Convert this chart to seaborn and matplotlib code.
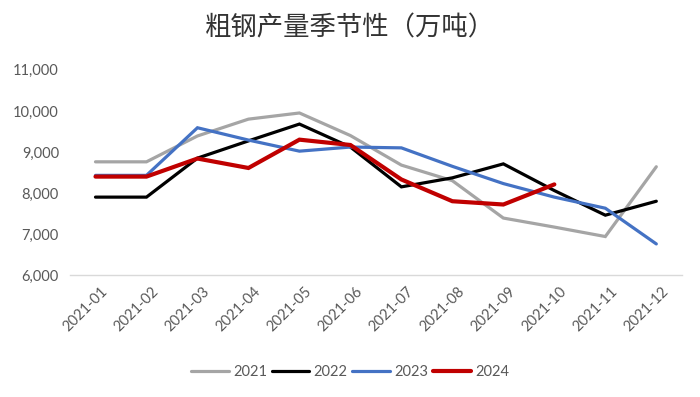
import numpy as np
import pandas as pd
import matplotlib
matplotlib.use("Agg")
import matplotlib.pyplot as plt
import matplotlib.ticker as mticker
import matplotlib.transforms as mtrans
from matplotlib.lines import Line2D
import seaborn as sns

months = ["2021-01", "2021-02", "2021-03", "2021-04", "2021-05", "2021-06",
          "2021-07", "2021-08", "2021-09", "2021-10", "2021-11", "2021-12"]
y2021 = [8760, 8760, 9390, 9800, 9950, 9400, 8680, 8300, 7390, 7170, 6940, 8640]
y2022 = [7900, 7900, 8850, 9270, 9680, 9120, 8150, 8370, 8710, 8060, 7460, 7800]
y2023 = [8430, 8430, 9590, 9290, 9020, 9120, 9100, 8650, 8230, 7900, 7630, 6760]
y2024 = [8400, 8400, 8840, 8610, 9300, 9170, 8330, 7800, 7720, 8210]
years = ["2021", "2022", "2023", "2024"]
colors = ["#A5A5A5", "#000000", "#4472C4", "#C00000"]
widths = [2.3, 2.3, 2.3, 3.0]

rows = []
for yr, vals in zip(years, [y2021, y2022, y2023, y2024]):
    for m, v in zip(months, vals):
        rows.append({"month": m, "year": yr, "value": v})
df = pd.DataFrame(rows)

sns.set_style("white")
plt.rcParams["font.family"] = ["Lato", "Noto Sans CJK SC", "DejaVu Sans"]

fig = plt.figure(figsize=(7.0, 3.97), dpi=100)
ax = fig.add_axes([0.1, 0.307, 0.874, 0.517])

df["xi"] = df["month"].map({m: i for i, m in enumerate(months)})
sns.lineplot(data=df, x="xi", y="value", hue="year", palette=colors,
             hue_order=years, ax=ax, legend=False, sort=False)
for line, lw in zip(ax.get_lines(), widths):
    line.set_linewidth(lw)
    line.set_solid_joinstyle("miter")

ax.set_xlim(-0.5, len(months) - 0.5)
ax.set_ylim(6000, 11000)
ax.yaxis.set_major_locator(mticker.MultipleLocator(1000))
ax.yaxis.set_major_formatter(mticker.FuncFormatter(lambda v, p: f"{int(v):,}"))
ax.set_xticks(range(len(months)))
ax.set_xticklabels(months, rotation=45, ha="right", rotation_mode="anchor",
                   fontsize=10.5, color="#595959")
ax.set_xticks(np.arange(-0.5, len(months), 1.0), minor=True)
ax.tick_params(axis="x", which="major", length=0, pad=8)
ax.tick_params(axis="x", which="minor", length=5, color="#D9D9D9", width=1)
ax.tick_params(axis="y", length=0, labelsize=10.5, labelcolor="#595959", pad=8)
for lab in ax.get_xticklabels():
    lab.set_transform(lab.get_transform() + mtrans.ScaledTranslation(0.05, 0.02, fig.dpi_scale_trans))
ax.set_xlabel("")
ax.set_ylabel("")
for s in ["top", "right", "left"]:
    ax.spines[s].set_visible(False)
ax.spines["bottom"].set_color("#D9D9D9")
ax.spines["bottom"].set_linewidth(1)

fig.text(0.5, 0.93, "粗钢产量季节性（万吨）", ha="center", va="center",
         fontsize=19, color="#333333", family=["Noto Sans CJK SC", "DejaVu Sans"])

handles = [Line2D([], [], color=c, lw=lw) for c, lw in zip(colors, widths)]
fig.legend(handles, years, loc="center", bbox_to_anchor=(0.5, 0.063), ncol=4,
           frameon=False, fontsize=10.5, handlelength=2.6, handletextpad=0.3,
           columnspacing=0.3, labelcolor="#595959")

fig.savefig("out.png", dpi=100)
